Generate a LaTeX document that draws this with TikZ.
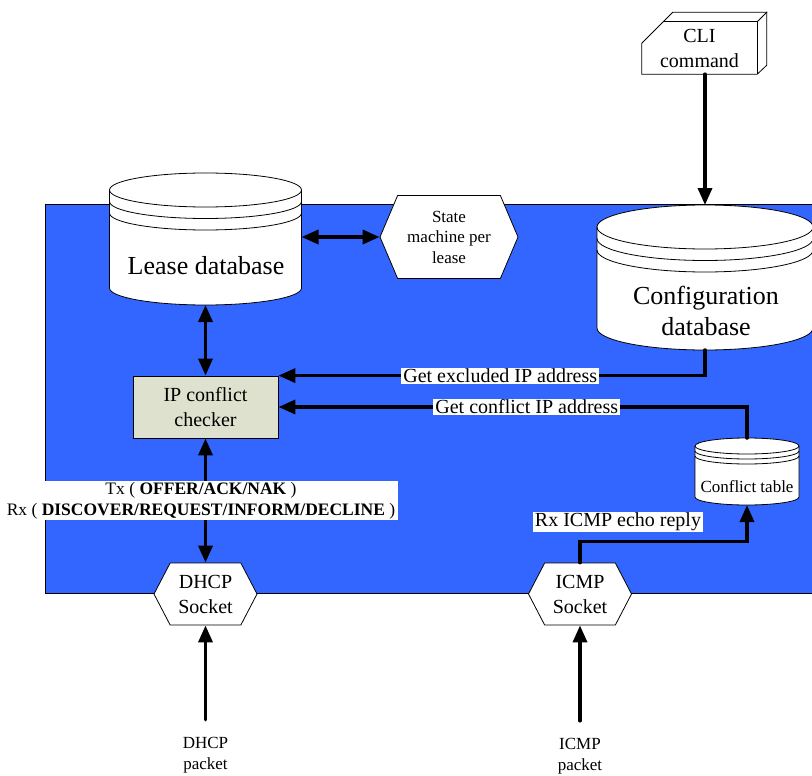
\documentclass[tikz,border=0pt]{standalone}
\usepackage{fontspec}
\setmainfont{Liberation Serif}
\usetikzlibrary{arrows.meta,shapes.symbols,calc}

\definecolor{panelblue}{RGB}{51,102,255}
\definecolor{checkerfill}{RGB}{221,225,205}

% name, cx, top cy, bottom cy, rx, ry, band gap
\newcommand{\dbdraw}[7]{%
  \filldraw[dbbody] (#2-#5,#3) -- (#2-#5,#4)
    arc[start angle=180,end angle=0,x radius=#5,y radius=#6] -- (#2+#5,#3)
    arc[start angle=0,end angle=-180,x radius=#5,y radius=#6] -- cycle;
  \draw[dbline] (#2-#5,#3) arc[start angle=180,end angle=0,x radius=#5,y radius=#6];
  \draw[dbline] (#2-#5,#3+#7) arc[start angle=180,end angle=0,x radius=#5,y radius=#6];
  \draw[dbline] (#2-#5,#3+2*#7) arc[start angle=180,end angle=0,x radius=#5,y radius=#6];
  \coordinate (#1 top) at (#2,#3-#6);
  \coordinate (#1 bottom) at (#2,#4+#6);
  \coordinate (#1 east) at (#2+#5,{(#3+#4)/2});
}

\begin{document}
\begin{tikzpicture}[
    x=1pt, y=-1pt,
    panel/.style={fill=panelblue, draw=black, line width=0.8pt},
    dbbody/.style={fill=white, draw=black, line width=0.8pt},
    dbline/.style={draw=black, line width=0.8pt},
    boxline/.style={draw=black, line width=0.8pt},
    bigtext/.style={font=\fontsize{26}{31}\selectfont, align=center},
    midtext/.style={font=\fontsize{20}{25}\selectfont, align=center},
    smalltext/.style={font=\fontsize{17}{20.5}\selectfont, align=center},
    hexbox/.style={shape=signal, signal to=west and east, signal pointer angle=125,
        draw=black, fill=white, line width=0.8pt, inner sep=0pt},
    checkbox/.style={rectangle, draw=black, fill=checkerfill, line width=0.8pt,
        minimum width=145pt, minimum height=62pt},
    tag/.style={fill=white, inner xsep=2pt, inner ysep=1pt},
    conn/.style={line width=3.5pt, line cap=round, -{Triangle[length=17pt,width=14pt]}},
    biconn/.style={line width=3.5pt,
        {Triangle[length=17pt,width=14pt]}-{Triangle[length=17pt,width=14pt]}}
]
    \useasboundingbox (0,0) rectangle (812,776);

    % DHCP server area
    \filldraw[panel] (45,204) rectangle (830,593);

    % CLI command box
    \node[midtext, minimum width=115pt, minimum height=52pt] (cli) at (699.5,48) {CLI\\command};
    \draw[boxline] (cli.south west) -- ++(0,-31) -- ++(31,-31) -- ++(94,0) -- ++(0,53)
        -- (cli.south east) -- cycle;
    \draw[boxline] ([xshift=22pt]cli.north west) -- (cli.north east) -- (cli.south east);
    \draw[boxline] (cli.north east) -- ++(10,-10);

    % databases
    \dbdraw{lease}{205.5}{190}{288}{96}{17}{11.5}
    \node[bigtext] (leasetxt) at (206,266) {Lease database};
    \dbdraw{cfg}{705}{227}{328}{108}{22}{11.5}
    \node[bigtext] (cfgtxt) at (706,311) {Configuration\\database};
    \dbdraw{tbl}{747}{446}{497}{52}{8}{5}
    \node[smalltext] (tbltxt) at (747,487) {Conflict table};

    \node[hexbox, smalltext, minimum width=138pt, minimum height=83pt,
        signal pointer angle=134] (state) at (449,237) {State\\machine per\\lease};
    \node[checkbox, midtext] (checker) at (205.5,407) {IP conflict\\checker};

    % sockets and packets
    \node[hexbox, midtext, minimum width=103pt, minimum height=62pt] (dhcp) at (205.5,594) {DHCP\\Socket};
    \node[hexbox, midtext, minimum width=103pt, minimum height=62pt] (icmp) at (580,594) {ICMP\\Socket};
    \node[smalltext] (dhcppkt) at (205.5,755) {DHCP\\packet};
    \node[smalltext] (icmppkt) at (580,756) {ICMP\\packet};

    \draw[conn] (cli.south -| cfg top) -- (cfg top);
    \draw[biconn] (state.west -| lease east) -- (state.west);
    \draw[biconn] (lease bottom) -- (checker.north);
    \draw[biconn] (checker.south) -- node[tag, xshift=-4.5pt, inner xsep=3pt,
        font=\fontsize{17.5}{21}\selectfont, align=center]
        {Tx ( \textbf{OFFER/ACK/NAK} )\\Rx ( \textbf{DISCOVER/REQUEST/INFORM/DECLINE} )} (dhcp.north);
    \draw[conn] (cfg bottom) |- node[tag, midtext, pos=0.74] {Get excluded IP address} (checker.north east);
    \draw[conn] (tbl top) |- node[tag, midtext, pos=0.735] {Get conflict IP address} (checker.east);
    \draw[conn] (icmp.north) -- ++(0,-21) -| (tbl bottom);
    \node[tag, midtext] (echo) at (618,522) {Rx ICMP echo reply};
    \draw[conn, shorten <=14pt] (dhcppkt.north) -- (dhcp.south);
    \draw[conn, shorten <=14pt] (icmppkt.north) -- (icmp.south);
\end{tikzpicture}
\end{document}
